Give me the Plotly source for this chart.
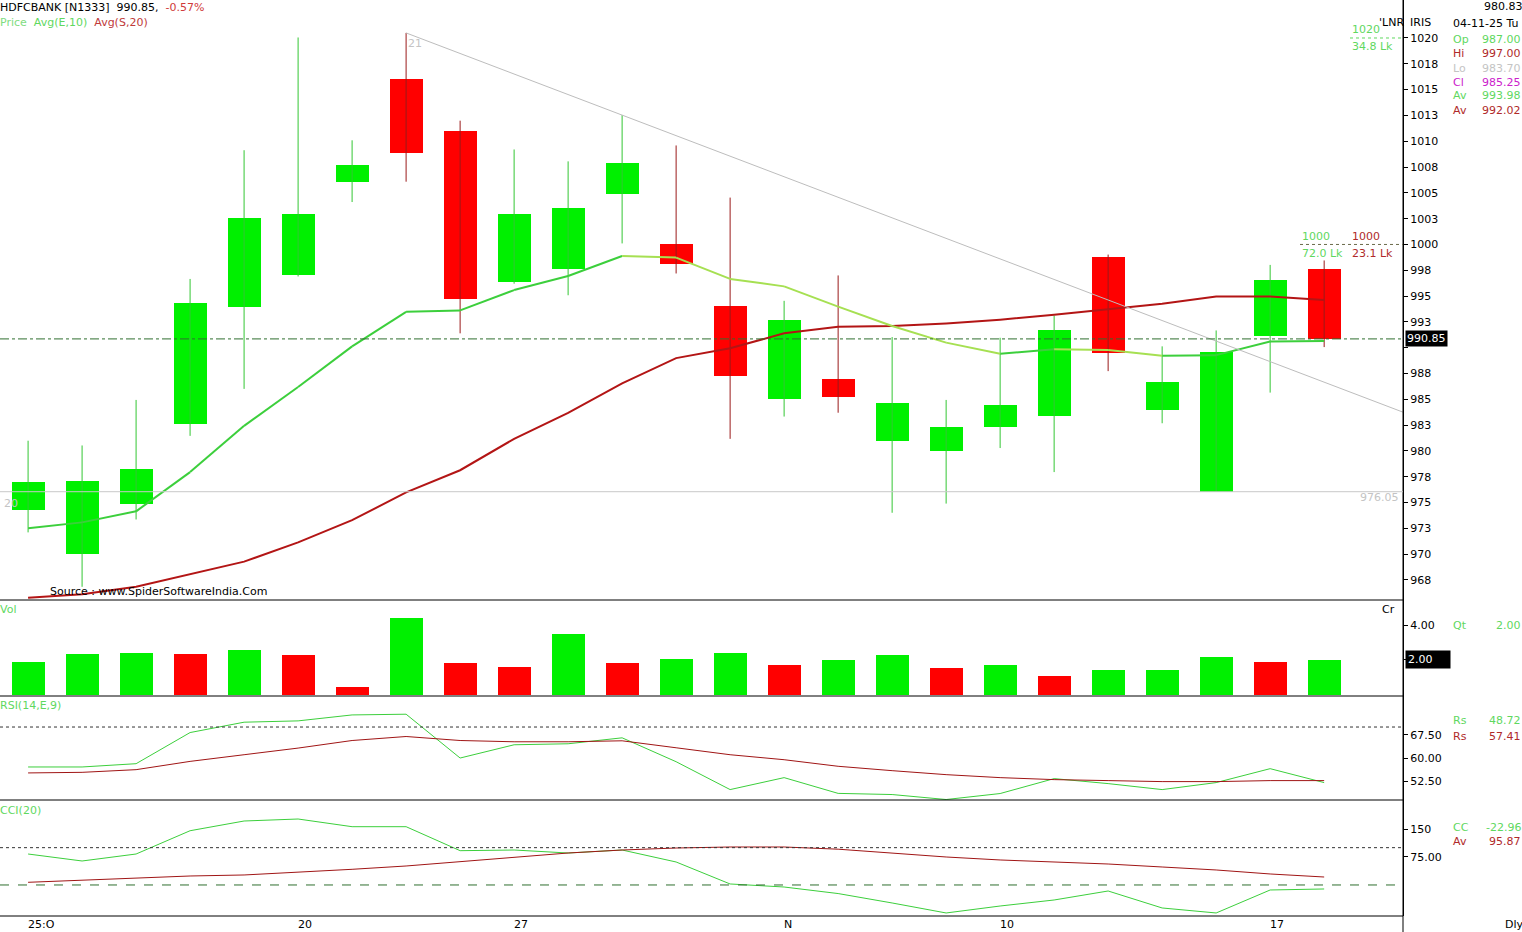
import plotly.graph_objects as go

# ---------------- data ----------------
DATES = ["13-10", "14-10", "15-10", "16-10", "17-10", "20-10", "21-10", "23-10", "24-10",
         "27-10", "28-10", "29-10", "30-10", "31-10", "03-11", "04-11", "06-11", "07-11",
         "10-11", "11-11", "12-11", "13-11", "14-11", "17-11", "18-11"]
OPEN = [974.26, 969.99, 974.90, 982.61, 993.90, 997.01, 1006.01, 1016.04, 1011.03,
        996.40, 997.59, 1004.90, 1000.06, 994.08, 985.01, 987.00, 980.92, 979.99,
        982.32, 983.43, 998.81, 983.97, 976.05, 991.14, 997.59]
HIGH = [980.99, 980.53, 984.94, 996.66, 1009.13, 1020.05, 1010.09, 1020.49, 1011.99,
        1009.20, 1008.05, 1012.53, 1009.59, 1004.54, 994.54, 997.00, 991.03, 984.94,
        990.96, 993.11, 999.02, 990.13, 991.67, 998.02, 998.45]
LOW = [972.11, 966.84, 973.36, 981.46, 986.01, 996.90, 1004.11, 1006.08, 991.39,
       996.20, 995.08, 1000.10, 997.19, 981.17, 983.33, 983.70, 974.01, 974.90,
       980.28, 977.95, 987.73, 982.68, 976.05, 985.65, 990.06]
CLOSE = [977.02, 977.09, 978.24, 994.33, 1002.57, 1002.96, 1007.69, 1008.84, 994.72,
         1002.96, 1003.54, 1007.91, 998.09, 987.27, 992.71, 985.25, 984.65, 982.32,
         984.47, 991.75, 989.49, 986.66, 989.60, 996.55, 990.85]
EMA10 = [972.50, 973.08, 974.15, 977.95, 982.43, 986.19, 990.13, 993.47, 993.61,
         995.58, 996.94, 998.88, 998.73, 996.66, 995.94, 993.98, 992.10, 990.49,
         989.42, 989.84, 989.78, 989.21, 989.28, 990.60, 990.65]
SMA20 = [965.77, 966.12, 966.84, 968.09, 969.28, 971.14, 973.29, 975.98, 978.13,
         981.17, 983.68, 986.55, 988.99, 989.95, 991.39, 992.02, 992.10, 992.35,
         992.71, 993.18, 993.72, 994.25, 994.97, 994.97, 994.61]
VOLUME = [1.89, 2.34, 2.40, 2.34, 2.57, 2.29, 0.46, 4.40, 1.83, 1.60, 3.49, 1.83, 2.06,
          2.40, 1.71, 2.00, 2.29, 1.54, 1.71, 1.09, 1.43, 1.43, 2.17, 1.89, 2.00]
VOLUME_UP = [1, 1, 1, 0, 1, 0, 0, 1, 0, 0, 1, 0, 1, 1, 0, 1, 1, 0, 1, 0, 1, 1, 1, 0, 1]
RSI = [57.19, 57.19, 58.24, 68.23, 71.55, 71.97, 73.88, 74.11, 60.06, 64.31, 64.63,
       66.54, 58.88, 49.94, 53.77, 48.72, 48.35, 46.75, 48.67, 53.46, 51.86, 49.94,
       52.18, 56.65, 52.18]
RSI_SIGNAL = [55.28, 55.47, 56.33, 58.98, 61.12, 63.25, 65.68, 66.96, 65.68, 65.27, 65.27,
              65.58, 63.35, 61.12, 59.52, 57.41, 56.01, 54.73, 53.77, 53.14, 52.82, 52.50,
              52.50, 52.82, 52.82]
CCI = [83.0, 64.3, 83.0, 145.4, 171.4, 176.8, 156.2, 156.2, 91.9, 93.7, 85.7, 93.7, 61.6,
       2.7, -5.4, -22.96, -48.2, -75.0, -56.3, -40.2, -16.1, -61.6, -75.0, -13.4, -10.7]
CCI_AVG = [7.2, 13.4, 19.5, 24.1, 26.8, 34.0, 42.0, 50.9, 62.4, 72.3, 85.7, 93.7, 99.1,
           101.8, 101.8, 95.87, 85.7, 75.0, 67.0, 61.6, 56.2, 48.2, 40.2, 29.5, 21.4]

PRICE_TICKS = [967.5, 970, 972.5, 975, 977.5, 980, 982.5, 985, 987.5, 990, 992.5, 995,
               997.5, 1000, 1002.5, 1005, 1007.5, 1010, 1012.5, 1015, 1017.5, 1020]
# the 990 label sits under the last-price box in the reference
PRICE_TICK_LABELS = ["968", "970", "973", "975", "978", "980", "983", "985", "988", "",
                     "993", "995", "998", "1000", "1003", "1005", "1008", "1010", "1013",
                     "1015", "1018", "1020"]
VOL_TICKS = [2, 4]
VOL_TICK_LABELS = ["", "4.00"]
RSI_TICKS = [52.5, 60, 67.5]
RSI_TICK_LABELS = ["52.50", "60.00", "67.50"]
CCI_TICKS = [75, 150]
CCI_TICK_LABELS = ["75.00", "150"]
X_TICK_IDX = [0, 5, 9, 14, 18, 23]
X_TICK_LABELS = ["25:O", "20", "27", "N", "10", "17"]

INFO_ROWS = [("Op", "987.00", "#5fd85f"), ("Hi", "997.00", "#b02a2a"),
             ("Lo", "983.70", "#c4c4c4"), ("Cl", "985.25", "#cc22cc"),
             ("Av", "993.98", "#5fd85f"), ("Av", "992.02", "#b02a2a")]

# ---------------- layout helpers ----------------
W, H = 1522, 932
FONT = "DejaVu Sans"
GREEN_BODY = "#00f000"
RED_BODY = "#ff0000"
GREEN_WICK = "#33c633"
RED_WICK = "#9a1a1a"
LBL_GREEN = "#5fd85f"
LBL_RED = "#b02a2a"
N = len(CLOSE)
X = list(range(N))
XR = [-0.52, 25.46]
XRIGHT = 1403 / W


def py(p):
    return 1 - p / H


fig = go.Figure()

# wicks
for up, col in ((True, GREEN_WICK), (False, RED_WICK)):
    xs, ys = [], []
    for i in X:
        if (CLOSE[i] >= OPEN[i]) == up:
            xs += [i, i, None]
            ys += [LOW[i], HIGH[i], None]
    fig.add_trace(go.Scatter(x=xs, y=ys, mode="lines", line=dict(color=col, width=1),
                             xaxis="x", yaxis="y", hoverinfo="skip"))

# bodies
fig.add_trace(go.Bar(
    x=X, y=[abs(c - o) for o, c in zip(OPEN, CLOSE)],
    base=[min(o, c) for o, c in zip(OPEN, CLOSE)], width=0.61,
    marker=dict(color=[GREEN_BODY if c >= o else RED_BODY for o, c in zip(OPEN, CLOSE)],
                line=dict(width=0)),
    xaxis="x", yaxis="y", hoverinfo="skip"))

# SMA20
fig.add_trace(go.Scatter(x=X, y=SMA20, mode="lines", line=dict(color="#b31515", width=2),
                         xaxis="x", yaxis="y", hoverinfo="skip"))
# EMA10 coloured by direction
for rising, col in ((True, "#3ccf3c"), (False, "#a6e052")):
    xs, ys = [], []
    for i in range(N - 1):
        if (EMA10[i + 1] >= EMA10[i]) == rising:
            xs += [i, i + 1, None]
            ys += [EMA10[i], EMA10[i + 1], None]
    fig.add_trace(go.Scatter(x=xs, y=ys, mode="lines", line=dict(color=col, width=2),
                             xaxis="x", yaxis="y", hoverinfo="skip"))

# trend line through highs of idx 7 and 11, extended to right edge
slope = (HIGH[11] - HIGH[7]) / 4
fig.add_trace(go.Scatter(x=[7, XR[1]], y=[HIGH[7], HIGH[7] + slope * (XR[1] - 7)],
                         mode="lines", line=dict(color="#bdbdbd", width=1),
                         xaxis="x", yaxis="y", hoverinfo="skip"))

# volume
fig.add_trace(go.Bar(x=X, y=VOLUME, width=0.61,
                     marker=dict(color=[GREEN_BODY if u else RED_BODY for u in VOLUME_UP],
                                 line=dict(width=0)),
                     xaxis="x2", yaxis="y2", hoverinfo="skip"))
# RSI
fig.add_trace(go.Scatter(x=X, y=RSI, mode="lines", line=dict(color="#3ccf3c", width=1),
                         xaxis="x3", yaxis="y3", hoverinfo="skip"))
fig.add_trace(go.Scatter(x=X, y=RSI_SIGNAL, mode="lines", line=dict(color="#a01515", width=1),
                         xaxis="x3", yaxis="y3", hoverinfo="skip"))
# CCI
fig.add_trace(go.Scatter(x=X, y=CCI, mode="lines", line=dict(color="#3ccf3c", width=1),
                         xaxis="x4", yaxis="y4", hoverinfo="skip"))
fig.add_trace(go.Scatter(x=X, y=CCI_AVG, mode="lines", line=dict(color="#a01515", width=1),
                         xaxis="x4", yaxis="y4", hoverinfo="skip"))

tickfont = dict(family=FONT, size=11, color="black")
xcommon = dict(range=XR, domain=[0, XRIGHT], showgrid=False, zeroline=False,
               showticklabels=False, showline=False, ticks="", fixedrange=True)
ycommon = dict(side="right", showgrid=False, zeroline=False, showline=True,
               linecolor="black", linewidth=1, ticks="outside", ticklen=4,
               tickcolor="black", tickfont=tickfont, fixedrange=True)

fig.update_layout(
    width=W, height=H, autosize=False,
    margin=dict(l=0, r=0, t=0, b=0),
    paper_bgcolor="white", plot_bgcolor="white",
    showlegend=False, bargap=0,
    xaxis=dict(anchor="y", **xcommon),
    xaxis2=dict(anchor="y2", **xcommon),
    xaxis3=dict(anchor="y3", **xcommon),
    xaxis4=dict(anchor="y4", **xcommon),
    yaxis=dict(anchor="x", domain=[py(600), 1], range=[965.56, 1023.68],
               tickvals=PRICE_TICKS, ticktext=PRICE_TICK_LABELS, **ycommon),
    yaxis2=dict(anchor="x2", domain=[py(696), py(600)], range=[-0.06, 5.43],
                tickvals=VOL_TICKS, ticktext=VOL_TICK_LABELS, **ycommon),
    yaxis3=dict(anchor="x3", domain=[py(800), py(696)], range=[46.6, 79.95],
                tickvals=RSI_TICKS, ticktext=RSI_TICK_LABELS, **ycommon),
    yaxis4=dict(anchor="x4", domain=[py(916), py(800)], range=[-83.1, 227.7],
                tickvals=CCI_TICKS, ticktext=CCI_TICK_LABELS, **ycommon),
)

# ---------------- shapes ----------------
def hline_paper(ypx, color="black", dash="solid", x0=0, x1=XRIGHT):
    fig.add_shape(type="line", xref="paper", yref="paper", x0=x0, x1=x1, y0=py(ypx), y1=py(ypx),
                  line=dict(color=color, width=1, dash=dash))


for ypx in (600, 696, 800, 916):
    hline_paper(ypx)
fig.add_shape(type="line", xref="paper", yref="paper", x0=XRIGHT, x1=XRIGHT, y0=0, y1=1,
              line=dict(color="black", width=1))

# price reference lines
fig.add_shape(type="line", xref="paper", yref="y", x0=0, x1=XRIGHT, y0=LOW[22], y1=LOW[22],
              line=dict(color="#c8c8c8", width=1))
fig.add_shape(type="line", xref="paper", yref="y", x0=0, x1=XRIGHT, y0=CLOSE[-1], y1=CLOSE[-1],
              line=dict(color="#2f6f2f", width=1, dash="dashdot"))
fig.add_shape(type="line", xref="paper", yref="y", x0=1350 / W, x1=XRIGHT, y0=1020, y1=1020,
              line=dict(color="#5fd85f", width=1, dash="dot"))
fig.add_shape(type="line", xref="paper", yref="y", x0=1300 / W, x1=XRIGHT, y0=1000, y1=1000,
              line=dict(color="#6a6a4a", width=1, dash="dot"))
# RSI 70, CCI 100 / 0
fig.add_shape(type="line", xref="paper", yref="y3", x0=0, x1=XRIGHT, y0=70, y1=70,
              line=dict(color="#333333", width=1, dash="dot"))
fig.add_shape(type="line", xref="paper", yref="y4", x0=0, x1=XRIGHT, y0=100, y1=100,
              line=dict(color="#333333", width=1, dash="dot"))
fig.add_shape(type="line", xref="paper", yref="y4", x0=0, x1=XRIGHT, y0=0, y1=0,
              line=dict(color="#2f6f2f", width=1, dash="dash"))


# ---------------- text ----------------
def txt(x, y, s, color="black", anchor="left", size=11, bg=None):
    fig.add_annotation(x=x / W, y=py(y), xref="paper", yref="paper", text=s, showarrow=False,
                       xanchor=anchor, yanchor="middle",
                       font=dict(family=FONT, size=size, color=color),
                       bgcolor=bg, borderpad=1)


txt(-2, 8, "HDFCBANK [N1333]  990.85,  <span style='color:#d03a3a'>-0.57%</span>")
txt(-2, 22, "<span style='color:#7fdc7f'>Price</span>  "
            "<span style='color:#5fd85f'>Avg(E,10)</span>  "
            "<span style='color:#c03a3a'>Avg(S,20)</span>")
txt(48, 591, "Source : www.SpiderSoftwareIndia.Com")
txt(-2, 609, "Vol", LBL_GREEN)
txt(-2, 705, "RSI(14,E,9)", LBL_GREEN)
txt(-2, 810, "CCI(20)", LBL_GREEN)
txt(1380, 609, "Cr")
txt(1377, 22, "'LNR")
txt(1408, 22, "IRIS")
txt(1503, 6, "980.83", anchor="center")
txt(1451, 24, "04-11-25 Tu")
for k, (lab, val, col) in enumerate(INFO_ROWS):
    yy = 40 + k * 14
    txt(1451, yy, lab, col)
    txt(1523, yy, val, col, anchor="right")
txt(1451, 625, "Qt", LBL_GREEN)
txt(1523, 625, f"{VOLUME[15]:.2f}", LBL_GREEN, anchor="right")
txt(1451, 720, "Rs", LBL_GREEN)
txt(1523, 720, f"{RSI[15]:.2f}", LBL_GREEN, anchor="right")
txt(1451, 736, "Rs", LBL_RED)
txt(1523, 736, f"{RSI_SIGNAL[15]:.2f}", LBL_RED, anchor="right")
txt(1451, 827, "CC", LBL_GREEN)
txt(1523, 827, f"{CCI[15]:.2f}", LBL_GREEN, anchor="right")
txt(1451, 841, "Av", LBL_RED)
txt(1523, 841, f"{CCI_AVG[15]:.2f}", LBL_RED, anchor="right")
txt(1350, 30, "1020", LBL_GREEN)
txt(1350, 46, "34.8 Lk", LBL_GREEN)
txt(1300, 236, "1000", LBL_GREEN)
txt(1300, 253, "72.0 Lk", LBL_GREEN)
txt(1350, 236, "1000", LBL_RED)
txt(1350, 253, "23.1 Lk", LBL_RED)
txt(1503, 924, "Dly")

# swing markers
fig.add_annotation(x=7, y=HIGH[7], xref="x", yref="y", text="21", showarrow=False,
                   xanchor="left", yanchor="top", xshift=0, yshift=-2,
                   font=dict(family=FONT, size=11, color="#c4c4c4"))
fig.add_annotation(x=0, y=LOW[22], xref="paper", yref="y", text="20", showarrow=False,
                   xanchor="left", yanchor="top", xshift=2, yshift=-3,
                   font=dict(family=FONT, size=11, color="#c4c4c4"))
fig.add_annotation(x=XRIGHT, y=LOW[22], xref="paper", yref="y", text=f"{LOW[22]:.2f}",
                   showarrow=False, xanchor="right", yanchor="bottom", xshift=-2, yshift=-14,
                   font=dict(family=FONT, size=11, color="#c4c4c4"))
# last value boxes
fig.add_annotation(x=XRIGHT, y=CLOSE[-1], xref="paper", yref="y", text=f"{CLOSE[-1]:.2f}",
                   showarrow=False, xanchor="left", yanchor="middle", xshift=2,
                   font=dict(family=FONT, size=11, color="white"), bgcolor="black", borderpad=1)
fig.add_annotation(x=XRIGHT, y=VOLUME[-1], xref="paper", yref="y2", text=f"{VOLUME[-1]:.2f}",
                   showarrow=False, xanchor="left", yanchor="middle", xshift=2,
                   width=40, align="left",
                   font=dict(family=FONT, size=11, color="white"), bgcolor="black", borderpad=2)

# date labels
for i, lab in zip(X_TICK_IDX, X_TICK_LABELS):
    fig.add_annotation(x=i, y=py(924), xref="x4", yref="paper", text=lab, showarrow=False,
                       xanchor="left", yanchor="middle", xshift=-2,
                       font=dict(family=FONT, size=11, color="black"))

fig.write_html("out.html", config={"displayModeBar": False},
               post_script="document.body.style.margin='0';")
